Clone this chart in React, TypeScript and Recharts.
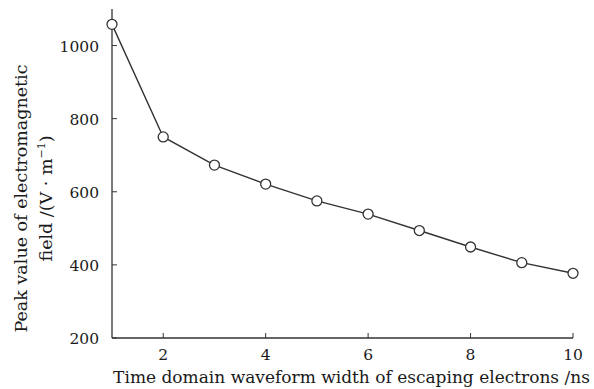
import React from 'react';
import { LineChart, Line, XAxis, YAxis } from 'recharts';

const widths = [1, 2, 3, 4, 5, 6, 7, 8, 9, 10];
const peaks = [1058, 750, 673, 621, 575, 539, 494, 449, 406, 377];
const xTicks = [2, 4, 6, 8, 10];
const yTicks = [200, 400, 600, 800, 1000];

const data = widths.map((w, i) => ({ w, v: peaks[i] }));

const FONT = '"DejaVu Serif", serif';
const INK = '#333';
const TXT = '#1a1a1a';
const M = 8;

const XTick = (p: any) => {
  const { x, y, payload } = p;
  const ay = y - M;
  return (
    <g>
      <line x1={x} y1={ay} x2={x} y2={ay - 5} stroke={INK} strokeWidth={1} />
      <text x={x} y={ay + 22} textAnchor="middle" fontFamily={FONT} fontSize={15.5} fill={TXT}>{payload.value}</text>
    </g>
  );
};

const YTick = (p: any) => {
  const { x, y, payload } = p;
  const ax = x + M;
  return (
    <g>
      <line x1={ax} y1={y} x2={ax + 5} y2={y} stroke={INK} strokeWidth={1} />
      <text x={ax - 13} y={y + 6} textAnchor="end" fontFamily={FONT} fontSize={15.5} fill={TXT}>{payload.value}</text>
    </g>
  );
};

const YLabel = (p: any) => {
  const vb = p.viewBox || {};
  const cy = vb.y + vb.height / 2 + 25;
  return (
    <g transform={`translate(0, ${cy}) rotate(-90)`}>
      <text x={0} y={27} textAnchor="middle" fontFamily={FONT} fontSize={17.5} fill={TXT}>Peak value of electromagnetic</text>
      <text x={0} y={52} textAnchor="middle" fontFamily={FONT} fontSize={17.5} fill={TXT}>
        field /(V · m<tspan dy={-7} fontSize={11}>−1</tspan><tspan dy={7}>)</tspan>
      </text>
    </g>
  );
};

const XLabel = (p: any) => {
  const vb = p.viewBox || {};
  return (
    <text x={vb.x + vb.width / 2 + 9} y={vb.y + 45} textAnchor="middle" fontFamily={FONT} fontSize={17} fill={TXT}>
      Time domain waveform width of escaping electrons /ns
    </text>
  );
};

export default function App() {
  return (
    <div style={{ position: 'absolute', left: 0, top: 0, width: 594, height: 389, background: '#fff' }}>
      <LineChart width={594} height={389} data={data} margin={{ top: 9, right: 21, bottom: 0, left: 0 }}>
        <XAxis
          dataKey="w"
          type="number"
          domain={[1, 10]}
          ticks={xTicks}
          tickLine={false}
          tickSize={0}
          tickMargin={M}
          tick={<XTick />}
          axisLine={{ stroke: INK, strokeWidth: 1.3 }}
          height={51}
          label={<XLabel />}
        />
        <XAxis xAxisId="top" dataKey="w" type="number" domain={[1, 10]} orientation="top" tick={false} tickLine={false} axisLine={{ stroke: INK, strokeWidth: 1.3 }} height={0} />
        <YAxis
          type="number"
          domain={[200, 1100]}
          ticks={yTicks}
          tickLine={false}
          tickSize={0}
          tickMargin={M}
          tick={<YTick />}
          axisLine={{ stroke: INK, strokeWidth: 1.3 }}
          width={112}
          label={<YLabel />}
        />
        <YAxis yAxisId="right" orientation="right" domain={[200, 1100]} tick={false} tickLine={false} axisLine={{ stroke: INK, strokeWidth: 1.3 }} width={0} />
        <Line
          dataKey="v"
          stroke={INK}
          strokeWidth={1.4}
          isAnimationActive={false}
          dot={{ r: 5, stroke: INK, strokeWidth: 1.3, fill: '#fff' }}
          activeDot={false}
        />
      </LineChart>
    </div>
  );
}
